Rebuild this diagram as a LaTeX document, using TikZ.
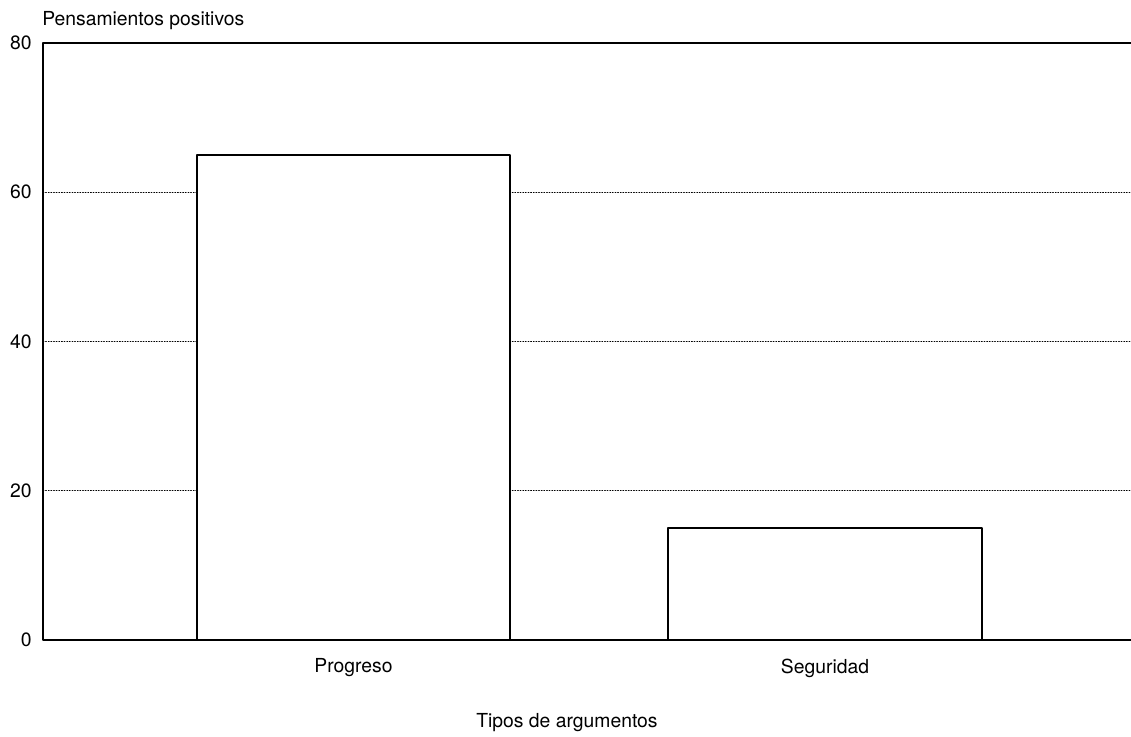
\documentclass[tikz,border=0pt]{standalone}
\usepackage{fontspec}
\setmainfont{TeX Gyre Heros}
\tikzset{
  axisline/.style={line width=1.1pt},
  gridline/.style={densely dotted,line width=0.5pt},
  barbox/.style={draw,fill=white,line width=1.1pt},
}
\begin{document}
\begin{tikzpicture}[line join=round,line cap=round,x=0.2mm,y=1.4925mm,font=\fontsize{11}{13}\selectfont]
			%%Khung
			\useasboundingbox (-43,-13) rectangle (1088,85.76);
			%%Lưới
			\foreach \v in {20,40,60}{
					\draw[gridline] (0,\v) -- (1088,\v);
				}
			%%Cột
			\draw[barbox] (154,0) rectangle (467,65);
			\draw[barbox] (625,0) rectangle (939,15);
			%%Trục
			\draw[axisline] (1088,80) -- (0,80) -- (0,0) -- (1088,0);
			%%Nhãn
			\foreach \v in {0,20,40,60,80}{
					\node[anchor=east,inner sep=0pt] (tick\v) at (-11,\v) {\v};
				}
			\node[anchor=base west,inner sep=0pt] (ylabel) at (-1,82.3) {Pensamientos positivos};
			\node (progreso) at (310.5,-3.75) {Progreso};
			\node (seguridad) at (782,-3.85) {Seguridad};
			\node (xlabel) at (524,-11.0) {Tipos de argumentos};
		\end{tikzpicture}
\end{document}
